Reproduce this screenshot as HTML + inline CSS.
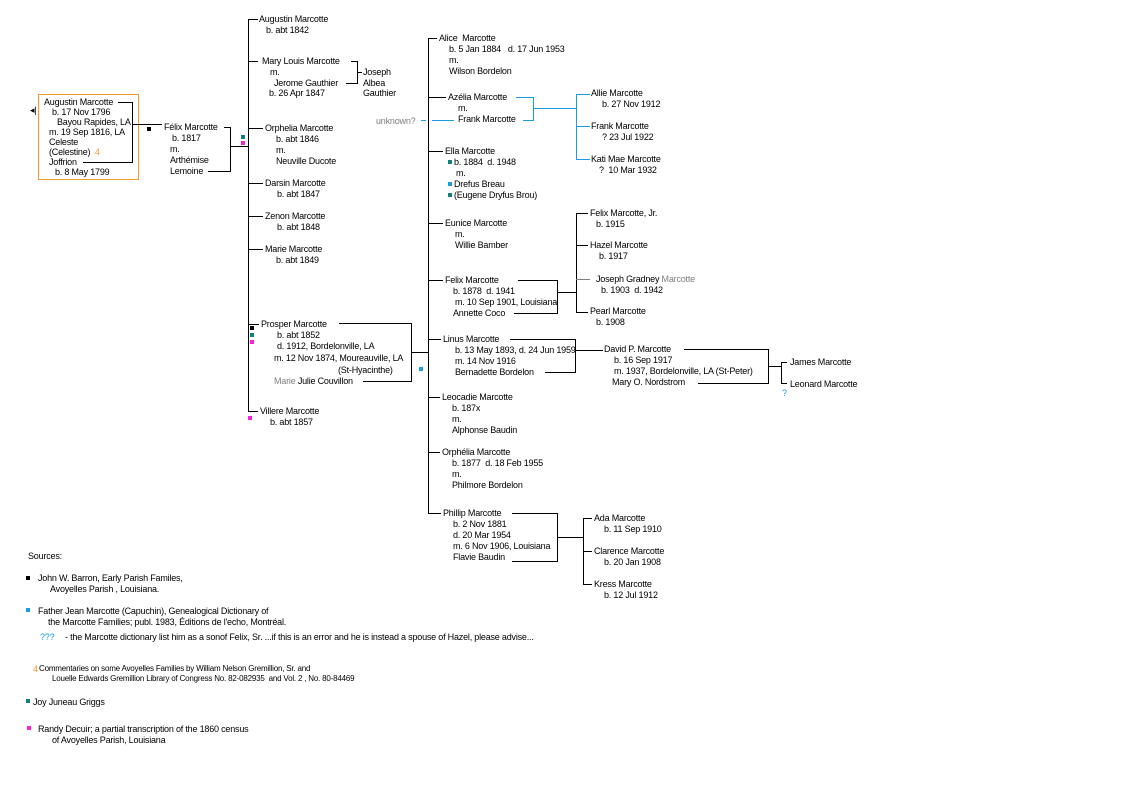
<!DOCTYPE html>
<html><head><meta charset="utf-8"><style>
body{margin:0;width:1140px;height:800px;background:#fff;position:relative;overflow:hidden;font-family:"Liberation Sans",sans-serif;font-size:9px;color:#000;letter-spacing:-0.2px}
.t{position:absolute;white-space:nowrap;line-height:10px}
.g{color:#808080}.b{color:#1a9be6}.o{color:#f29a2e}
.sq{position:absolute;width:5px;height:5px}
.k{background:#000}.tl{background:#0f8080}.m{background:#ff1fd6}.bl{background:#1a9be6}
svg{position:absolute;left:0;top:0}
</style></head><body>
<svg width="1140" height="800" fill="none" stroke="#000" stroke-width="1" shape-rendering="crispEdges">
<rect x="38.5" y="94.5" width="100" height="85" stroke="#f29a2e"/>
<path d="M118 102.5H132.5V162.5H83M132 124.5H162M224 127.5H230.5V171.5H208M230 146.5H248.5M248.5 19V412M248 19.5H258M248 61.5H258M248 128.5H263M248 183.5H263M248 216.5H263M248 249.5H263M248 324.5H259M248 411.5H258M351 61.5H357.5V83.5H346M357 72.5H362M339 323.5H411.5V381.5H363M411 352.5H428.5M428.5 38V513M428 38.5H437M428 97.5H446M428 151.5H443M428 223.5H443M428 280.5H443M428 339.5H441M428 397.5H440M428 452.5H440M428 513.5H441M518 280.5H557.5V313.5H514M557 292.5H576.5M576.5 213V312M576 213.5H588M576 245.5H588M576 312.5H588M510 339.5H575.5V372.5H545M575 350.5H603M684 349.5H768.5V383.5H698M768 366.5H781.5M781.5 362V383M781 362.5H787M781 383.5H787M512 513.5H557.5V561.5H512M557 537.5H583.5M583.5 518V584M583 518.5H592M583 551.5H592M583 584.5H592"/>
<path d="M576 279.5H590" stroke="#808080"/>
<path d="M516 97.5H533.5V120.5H523M533 108.5H576.5M576.5 94V159M576 94.5H590M576 126.5H590M576 159.5H590M421 120.5H426M432 120.5H454" stroke="#1a9be6"/>
</svg>
<div class="t" style="left:30px;top:105px">◂|</div>
<div class="t" style="left:44px;top:97px">Augustin Marcotte</div>
<div class="t" style="left:52px;top:107px">b. 17 Nov 1796</div>
<div class="t" style="left:57px;top:117px">Bayou Rapides, LA</div>
<div class="t" style="left:49px;top:127px">m. 19 Sep 1816, LA</div>
<div class="t" style="left:49px;top:137px">Celeste</div>
<div class="t" style="left:49px;top:147px">(Celestine) <span class="o">&nbsp;4</span></div>
<div class="t" style="left:49px;top:157px">Joffrion</div>
<div class="t" style="left:55px;top:167px">b. 8 May 1799</div>
<div class="sq k" style="left:147px;top:127px;width:4px;height:4px"></div>
<div class="t" style="left:164px;top:122px">Félix Marcotte</div>
<div class="t" style="left:172px;top:133px">b. 1817</div>
<div class="t" style="left:170px;top:144px">m.</div>
<div class="t" style="left:170px;top:155px">Arthémise</div>
<div class="t" style="left:170px;top:166px">Lemoine</div>
<div class="sq tl" style="left:241px;top:135px;width:4px;height:4px"></div>
<div class="sq m" style="left:241px;top:141px;width:4px;height:4px"></div>
<div class="t" style="left:259px;top:14px">Augustin Marcotte</div>
<div class="t" style="left:266px;top:25px">b. abt 1842</div>
<div class="t" style="left:262px;top:56px">Mary Louis Marcotte</div>
<div class="t" style="left:270px;top:67px">m.</div>
<div class="t" style="left:274px;top:78px">Jerome Gauthier</div>
<div class="t" style="left:269px;top:88px">b. 26 Apr 1847</div>
<div class="t" style="left:363px;top:67px">Joseph</div>
<div class="t" style="left:363px;top:78px">Albea</div>
<div class="t" style="left:363px;top:88px">Gauthier</div>
<div class="t" style="left:265px;top:123px">Orphelia Marcotte</div>
<div class="t" style="left:276px;top:134px">b. abt 1846</div>
<div class="t" style="left:276px;top:145px">m.</div>
<div class="t" style="left:276px;top:156px">Neuville Ducote</div>
<div class="t" style="left:265px;top:178px">Darsin Marcotte</div>
<div class="t" style="left:277px;top:189px">b. abt 1847</div>
<div class="t" style="left:265px;top:211px">Zenon Marcotte</div>
<div class="t" style="left:277px;top:222px">b. abt 1848</div>
<div class="t" style="left:265px;top:244px">Marie Marcotte</div>
<div class="t" style="left:276px;top:255px">b. abt 1849</div>
<div class="sq k" style="left:250px;top:326px;width:4px;height:4px"></div>
<div class="sq tl" style="left:250px;top:333px;width:4px;height:4px"></div>
<div class="sq m" style="left:250px;top:340px;width:4px;height:4px"></div>
<div class="t" style="left:261px;top:319px">Prosper Marcotte</div>
<div class="t" style="left:277px;top:330px">b. abt 1852</div>
<div class="t" style="left:277px;top:341px">d. 1912, Bordelonville, LA</div>
<div class="t" style="left:274px;top:353px">m. 12 Nov 1874, Moureauville, LA</div>
<div class="t" style="left:338px;top:365px">(St-Hyacinthe)</div>
<div class="t" style="left:274px;top:376px"><span class="g">Marie</span> Julie Couvillon</div>
<div class="sq bl" style="left:419px;top:367px;width:4px;height:4px"></div>
<div class="t" style="left:260px;top:406px">Villere Marcotte</div>
<div class="t" style="left:270px;top:417px">b. abt 1857</div>
<div class="sq m" style="left:248px;top:416px;width:4px;height:4px"></div>
<div class="t" style="left:439px;top:33px">Alice&nbsp; Marcotte</div>
<div class="t" style="left:449px;top:44px">b. 5 Jan 1884&nbsp;&nbsp; d. 17 Jun 1953</div>
<div class="t" style="left:449px;top:55px">m.</div>
<div class="t" style="left:449px;top:66px">Wilson Bordelon</div>
<div class="t" style="left:448px;top:92px">Azélia Marcotte</div>
<div class="t" style="left:458px;top:103px">m.</div>
<div class="t" style="left:458px;top:114px">Frank Marcotte</div>
<div class="t g" style="left:376px;top:116px">unknown?</div>
<div class="t" style="left:591px;top:88px">Allie Marcotte</div>
<div class="t" style="left:602px;top:99px">b. 27 Nov 1912</div>
<div class="t" style="left:591px;top:121px">Frank Marcotte</div>
<div class="t" style="left:602px;top:132px">? 23 Jul 1922</div>
<div class="t" style="left:591px;top:154px">Kati Mae Marcotte</div>
<div class="t" style="left:599px;top:165px">?&nbsp; 10 Mar 1932</div>
<div class="t" style="left:445px;top:146px">Ella Marcotte</div>
<div class="sq tl" style="left:448px;top:160px;width:4px;height:4px"></div>
<div class="t" style="left:454px;top:157px">b. 1884&nbsp; d. 1948</div>
<div class="t" style="left:456px;top:168px">m.</div>
<div class="sq bl" style="left:448px;top:182px;width:4px;height:4px"></div>
<div class="t" style="left:454px;top:179px">Drefus Breau</div>
<div class="sq tl" style="left:448px;top:193px;width:4px;height:4px"></div>
<div class="t" style="left:454px;top:190px">(Eugene Dryfus Brou)</div>
<div class="t" style="left:445px;top:218px">Eunice Marcotte</div>
<div class="t" style="left:455px;top:229px">m.</div>
<div class="t" style="left:455px;top:240px">Willie Bamber</div>
<div class="t" style="left:445px;top:275px">Felix Marcotte</div>
<div class="t" style="left:453px;top:286px">b. 1878&nbsp; d. 1941</div>
<div class="t" style="left:455px;top:297px">m. 10 Sep 1901, Louisiana</div>
<div class="t" style="left:453px;top:308px">Annette Coco</div>
<div class="t" style="left:590px;top:208px">Felix Marcotte, Jr.</div>
<div class="t" style="left:596px;top:219px">b. 1915</div>
<div class="t" style="left:590px;top:240px">Hazel Marcotte</div>
<div class="t" style="left:599px;top:251px">b. 1917</div>
<div class="t" style="left:596px;top:274px">Joseph Gradney <span class="g">Marcotte</span></div>
<div class="t" style="left:601px;top:285px">b. 1903&nbsp; d. 1942</div>
<div class="t" style="left:590px;top:306px">Pearl Marcotte</div>
<div class="t" style="left:596px;top:317px">b. 1908</div>
<div class="t" style="left:443px;top:334px">Linus Marcotte</div>
<div class="t" style="left:455px;top:345px">b. 13 May 1893, d. 24 Jun 1959</div>
<div class="t" style="left:455px;top:356px">m. 14 Nov 1916</div>
<div class="t" style="left:455px;top:367px">Bernadette Bordelon</div>
<div class="t" style="left:604px;top:344px">David P. Marcotte</div>
<div class="t" style="left:614px;top:355px">b. 16 Sep 1917</div>
<div class="t" style="left:614px;top:366px">m. 1937, Bordelonville, LA (St-Peter)</div>
<div class="t" style="left:612px;top:377px">Mary O. Nordstrom</div>
<div class="t" style="left:790px;top:357px">James Marcotte</div>
<div class="t" style="left:790px;top:379px">Leonard Marcotte</div>
<div class="t b" style="left:782px;top:388px">?</div>
<div class="t" style="left:442px;top:392px">Leocadie Marcotte</div>
<div class="t" style="left:452px;top:403px">b. 187x</div>
<div class="t" style="left:452px;top:414px">m.</div>
<div class="t" style="left:452px;top:425px">Alphonse Baudin</div>
<div class="t" style="left:442px;top:447px">Orphélia Marcotte</div>
<div class="t" style="left:452px;top:458px">b. 1877&nbsp; d. 18 Feb 1955</div>
<div class="t" style="left:452px;top:469px">m.</div>
<div class="t" style="left:452px;top:480px">Philmore Bordelon</div>
<div class="t" style="left:443px;top:508px">Phillip Marcotte</div>
<div class="t" style="left:453px;top:519px">b. 2 Nov 1881</div>
<div class="t" style="left:453px;top:530px">d. 20 Mar 1954</div>
<div class="t" style="left:453px;top:541px">m. 6 Nov 1906, Louisiana</div>
<div class="t" style="left:453px;top:552px">Flavie Baudin</div>
<div class="t" style="left:594px;top:513px">Ada Marcotte</div>
<div class="t" style="left:604px;top:524px">b. 11 Sep 1910</div>
<div class="t" style="left:594px;top:546px">Clarence Marcotte</div>
<div class="t" style="left:604px;top:557px">b. 20 Jan 1908</div>
<div class="t" style="left:594px;top:579px">Kress Marcotte</div>
<div class="t" style="left:604px;top:590px">b. 12 Jul 1912</div>
<div class="t" style="left:28px;top:551px">Sources:</div>
<div class="sq k" style="left:26px;top:576px;width:4px;height:4px"></div>
<div class="t" style="left:38px;top:573px">John W. Barron, Early Parish Familes,</div>
<div class="t" style="left:50px;top:584px">Avoyelles Parish , Louisiana.</div>
<div class="sq bl" style="left:26px;top:608px;width:4px;height:4px"></div>
<div class="t" style="left:38px;top:606px">Father Jean Marcotte (Capuchin), Genealogical Dictionary of</div>
<div class="t" style="left:48px;top:617px">the Marcotte Families; publ. 1983, Éditions de l'echo, Montréal.</div>
<div class="t b" style="left:40px;top:632px">???</div>
<div class="t" style="left:65px;top:632px">- the Marcotte dictionary list him as a sonof Felix, Sr. ...if this is an error and he is instead a spouse of Hazel, please advise...</div>
<div class="t o" style="left:33px;top:664px">4</div>
<div class="t" style="left:39px;top:664px;font-size:8px">Commentaries on some Avoyelles Families by William Nelson Gremillion, Sr. and</div>
<div class="t" style="left:52px;top:674px;font-size:8px">Louelle Edwards Gremillion Library of Congress No. 82-082935&nbsp; and Vol. 2 , No. 80-84469</div>
<div class="sq tl" style="left:26px;top:699px;width:4px;height:4px"></div>
<div class="t" style="left:33px;top:697px">Joy Juneau Griggs</div>
<div class="sq m" style="left:27px;top:726px;width:4px;height:4px"></div>
<div class="t" style="left:38px;top:724px">Randy Decuir; a partial transcription of the 1860 census</div>
<div class="t" style="left:52px;top:735px">of Avoyelles Parish, Louisiana</div>
</body></html>
